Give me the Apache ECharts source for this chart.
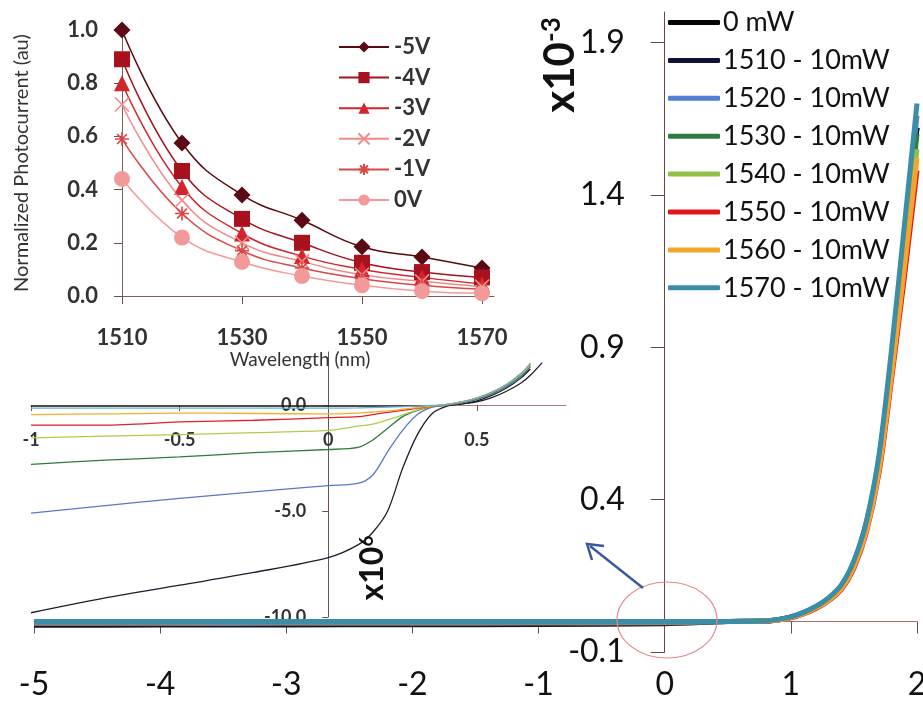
<!DOCTYPE html>
<html>
<head>
<meta charset="utf-8">
<script src="https://cdn.jsdelivr.net/npm/echarts@6/dist/echarts.min.js"></script>
<style>html,body{margin:0;padding:0;background:#fff;}#c{width:923px;height:702px;}</style>
</head>
<body>
<div id="c"></div>
<script>
// ---------- Main chart: current (x10^-3 A) vs voltage (V) ----------
const mainNames = ['0 mW','1510 - 10mW','1520 - 10mW','1530 - 10mW','1540 - 10mW','1550 - 10mW','1560 - 10mW','1570 - 10mW'];
const mainV = [-5, -4, -3, -2, -1, 0, 0.5, 0.8, 0.9, 1.0, 1.1, 1.2, 1.3, 1.4, 1.5, 1.6, 1.7, 1.8, 1.9, 2.0];
const cur0mW  = [0, 0, 0, 0, 0, 0, 0, 0.002, 0.006, 0.014, 0.028, 0.048, 0.075, 0.115, 0.19, 0.32, 0.53, 0.86, 1.24, 1.62];
const cur1510 = [-0.0125, -0.0118, -0.011, -0.0104, -0.0098, -0.0072, 0.0003, 0.002, 0.006, 0.014, 0.028, 0.048, 0.075, 0.115, 0.19, 0.32, 0.53, 0.86, 1.24, 1.62];
const cur1520 = [-0.0068, -0.0063, -0.0059, -0.0055, -0.0051, -0.0038, 0.0003, 0.002, 0.006, 0.015, 0.029, 0.049, 0.076, 0.118, 0.195, 0.33, 0.54, 0.88, 1.27, 1.66];
const cur1530 = [-0.0040, -0.0037, -0.0034, -0.0031, -0.0028, -0.0021, 0.0002, 0.002, 0.006, 0.014, 0.028, 0.047, 0.074, 0.114, 0.188, 0.318, 0.525, 0.85, 1.22, 1.60];
const cur1540 = [-0.0022, -0.0020, -0.0018, -0.0017, -0.0015, -0.0012, 0.0002, 0.002, 0.005, 0.013, 0.027, 0.046, 0.072, 0.11, 0.185, 0.31, 0.51, 0.83, 1.18, 1.55];
const cur1550 = [-0.0013, -0.0012, -0.0011, -0.0010, -0.0009, -0.0006, 0.0001, 0.001, 0.005, 0.012, 0.025, 0.043, 0.068, 0.105, 0.175, 0.295, 0.49, 0.80, 1.13, 1.48];
const cur1560 = [-0.0007, -0.0006, -0.0006, -0.0005, -0.0004, -0.0004, 0.0001, 0.002, 0.005, 0.013, 0.026, 0.045, 0.07, 0.108, 0.18, 0.30, 0.50, 0.815, 1.16, 1.52];
const cur1570 = [-0.0003, -0.0002, -0.0002, -0.0002, -0.0002, -0.0002, 0.0001, 0.002, 0.007, 0.015, 0.03, 0.05, 0.078, 0.12, 0.2, 0.33, 0.55, 0.9, 1.3, 1.70];
const mainCurrents = [cur0mW, cur1510, cur1520, cur1530, cur1540, cur1550, cur1560, cur1570];
const mainYTicks = [-0.1, 0.4, 0.9, 1.4, 1.9];

// ---------- Inset: normalized photocurrent vs wavelength ----------
const wavelengths = [1510, 1520, 1530, 1540, 1550, 1560, 1570];
const wlTicks = [1510, 1530, 1550, 1570];
const biasNames = ['-5V', '-4V', '-3V', '-2V', '-1V', '0V'];
const pc5V = [1.0, 0.575, 0.38, 0.285, 0.185, 0.147, 0.105];
const pc4V = [0.89, 0.47, 0.29, 0.20, 0.125, 0.09, 0.07];
const pc3V = [0.80, 0.41, 0.235, 0.15, 0.10, 0.07, 0.045];
const pc2V = [0.72, 0.36, 0.20, 0.13, 0.08, 0.055, 0.035];
const pc1V = [0.59, 0.31, 0.17, 0.105, 0.065, 0.04, 0.025];
const pc0V = [0.44, 0.22, 0.128, 0.075, 0.04, 0.018, 0.01];
const photocurrents = [pc5V, pc4V, pc3V, pc2V, pc1V, pc0V];

// ---------- Inset: zoomed I-V (x10^-6 A) ----------
const ivV = [-1, -0.75, -0.5, -0.25, 0, 0.1, 0.15, 0.2, 0.25, 0.3, 0.35, 0.4, 0.45, 0.5, 0.55, 0.6, 0.65, 0.68, 0.72];
const iv0mW  = [-0.05, -0.05, -0.05, -0.05, -0.05, -0.05, -0.05, -0.05, -0.05, -0.05, -0.04, -0.02, 0.05, 0.2, 0.45, 0.8, 1.3, 1.7, null];
const iv1510 = [-9.8, -9.1, -8.5, -7.9, -7.2, -6.6, -6.0, -5.0, -3.0, -1.4, -0.4, -0.05, 0.05, 0.15, 0.35, 0.65, 1.05, 1.4, 2.0];
const iv1520 = [-5.1, -4.75, -4.4, -4.1, -3.8, -3.7, -3.3, -2.2, -1.2, -0.45, -0.1, 0.0, 0.1, 0.25, 0.5, 0.85, 1.35, 1.8, null];
const iv1530 = [-2.8, -2.6, -2.45, -2.25, -2.1, -2.0, -1.65, -1.1, -0.55, -0.25, -0.08, 0.0, 0.12, 0.3, 0.55, 0.9, 1.4, 1.85, null];
const iv1540 = [-1.55, -1.47, -1.4, -1.3, -1.2, -1.0, -0.9, -0.7, -0.47, -0.23, -0.07, 0.02, 0.15, 0.32, 0.58, 0.95, 1.45, 1.9, null];
const iv1550 = [-0.95, -0.95, -0.8, -0.72, -0.6, -0.55, -0.45, -0.35, -0.25, -0.15, -0.05, 0.03, 0.15, 0.33, 0.6, 0.97, 1.5, 1.95, null];
const iv1560 = [-0.45, -0.42, -0.38, -0.4, -0.42, -0.38, -0.33, -0.28, -0.2, -0.12, -0.04, 0.03, 0.15, 0.33, 0.6, 0.97, 1.5, 1.95, null];
const iv1570 = [-0.15, -0.15, -0.15, -0.15, -0.15, -0.14, -0.12, -0.1, -0.08, -0.05, -0.02, 0.03, 0.15, 0.33, 0.6, 0.97, 1.5, 1.95, null];
const ivCurrents = [iv0mW, iv1510, iv1520, iv1530, iv1540, iv1550, iv1560, iv1570];
const ivXTicks = [-1, -0.5, 0, 0.5];
const ivYTicks = [-10, -5, 0];

// ---------- styles ----------
const FONT = 'Lato';
const mainColors = ['#050505', '#10123a', '#4f7fd6', '#2f7d3c', '#93c047', '#e4141c', '#f5a52a', '#3c8ea6'];
const ivColors   = ['#111111', '#1e1e2e', '#5b78c8', '#2f7d3a', '#b0cc4c', '#e0202a', '#f5b030', '#62b4d6'];
const biasColors = ['#5a0a12', '#a8121e', '#d1262d', '#f08a8a', '#d94848', '#f29a9a'];
const biasSymbols = [
  'diamond', 'rect', 'triangle',
  'path://M0,0L10,10M10,0L0,10',
  'path://M5,0L5,10M0,5L10,5M1.5,1.5L8.5,8.5M8.5,1.5L1.5,8.5',
  'circle'
];
const biasSizes = [17, 16, 16, 14, 14, 16];

// grid geometry
const MAIN = { left: 34, top: 12, width: 883, height: 640 };
const IV = { left: 31, top: 352, width: 535, height: 265 };
const mainZeroXOffset = -MAIN.width * 5 / 7;        // y-axis sits at x = 0
const mainZeroYOffset = -MAIN.height * 0.1 / 2.1;   // x-axis sits at y = 0
const ivZeroXOffset = -IV.width * 1 / 1.8;
const ivZeroYOffset = -IV.height * 10 / 12.5;

const series = [];
mainNames.forEach((n, i) => {
  series.push({
    type: 'line', name: n, xAxisIndex: 0, yAxisIndex: 0,
    data: mainV.map((v, j) => [v, mainCurrents[i][j]]),
    symbol: 'none', smooth: 0.3,
    lineStyle: { width: 5, color: mainColors[i] },
    itemStyle: { color: mainColors[i] }
  });
});
biasNames.forEach((n, i) => {
  const isStroke = i === 3 || i === 4;
  series.push({
    type: 'line', name: n, xAxisIndex: 1, yAxisIndex: 1,
    data: wavelengths.map((w, j) => [w, photocurrents[i][j]]),
    smooth: 0.45, symbol: biasSymbols[i], symbolSize: biasSizes[i],
    lineStyle: { width: 1.5, color: biasColors[i] },
    itemStyle: isStroke ? { color: biasColors[i], borderColor: biasColors[i], borderWidth: 1.6 } : { color: biasColors[i] },
    z: 5
  });
});
mainNames.forEach((n, i) => {
  series.push({
    type: 'line', name: n + ' (zoom)', xAxisIndex: 2, yAxisIndex: 2,
    data: ivV.map((v, j) => [v, ivCurrents[i][j]]),
    symbol: 'none', smooth: 0.3,
    lineStyle: { width: 1.3, color: ivColors[i] },
    itemStyle: { color: ivColors[i] },
    z: 4
  });
});

const option = {
  backgroundColor: '#fff',
  animation: false,
  textStyle: { fontFamily: FONT },
  grid: [
    Object.assign({ outerBoundsMode: 'none', containLabel: false }, MAIN),
    { left: 122, top: 30, width: 372, height: 266, outerBoundsMode: 'none', containLabel: false },
    Object.assign({ outerBoundsMode: 'none', containLabel: false }, IV)
  ],
  xAxis: [
    { gridIndex: 0, type: 'value', min: -5, max: 2, interval: 1, offset: mainZeroYOffset,
      axisLine: { onZero: false, lineStyle: { color: '#b06a6a', width: 1 } },
      axisTick: { length: 12, lineStyle: { color: '#6a4a4a' } },
      axisLabel: { margin: 47, fontSize: 32, color: '#111', fontFamily: FONT },
      splitLine: { show: false } },
    { gridIndex: 1, type: 'value', min: 1510, max: 1572,
      axisLine: { onZero: false, lineStyle: { color: '#7a6060' } },
      axisTick: { customValues: wlTicks, length: 8, lineStyle: { color: '#6a5050' } },
      axisLabel: { customValues: wlTicks, margin: 31, fontSize: 22, fontWeight: 'bold', color: '#333', fontFamily: FONT,
        formatter: v => String(v) },
      splitLine: { show: false },
      name: 'Wavelength (nm)', nameLocation: 'middle', nameGap: 46,
      nameTextStyle: { fontSize: 19, color: '#333', fontFamily: FONT, padding: [0, 16, 0, 0] } },
    { gridIndex: 2, type: 'value', min: -1, max: 0.8, offset: ivZeroYOffset,
      axisLine: { onZero: false, lineStyle: { color: '#b07878' } },
      axisTick: { customValues: ivXTicks, length: 6, lineStyle: { color: '#6a5050' } },
      axisLabel: { customValues: ivXTicks, margin: 26, fontSize: 18, fontWeight: 'bold', color: '#333', fontFamily: FONT },
      splitLine: { show: false } }
  ],
  yAxis: [
    { gridIndex: 0, type: 'value', min: -0.1, max: 2.0, offset: mainZeroXOffset,
      axisLine: { show: true, onZero: false, lineStyle: { color: '#6b4545', width: 1 } },
      axisTick: { show: true, customValues: mainYTicks, length: 14, lineStyle: { color: '#6b4545' } },
      axisLabel: { customValues: mainYTicks, margin: 40, fontSize: 32, color: '#111', fontFamily: FONT },
      splitLine: { show: false } },
    { gridIndex: 1, type: 'value', min: 0, max: 1, interval: 0.2,
      axisLine: { show: true, onZero: false, lineStyle: { color: '#7a6060' } },
      axisTick: { show: true, length: 8, lineStyle: { color: '#6a5050' } },
      axisLabel: { margin: 24, fontSize: 22, fontWeight: 'bold', color: '#333', fontFamily: FONT,
        formatter: v => v.toFixed(1) },
      splitLine: { show: false },
      name: 'Normalized Photocurrent (au)', nameLocation: 'middle', nameGap: 90, nameRotate: 90,
      nameTextStyle: { fontSize: 20, color: '#333', fontFamily: FONT } },
    { gridIndex: 2, type: 'value', min: -10, max: 2.5, offset: ivZeroXOffset,
      axisLine: { show: true, onZero: false, lineStyle: { color: '#6a5050' } },
      axisTick: { show: true, customValues: ivYTicks, length: 6, lineStyle: { color: '#6a5050' } },
      axisLabel: { customValues: ivYTicks, margin: 22, fontSize: 18, fontWeight: 'bold', color: '#333', fontFamily: FONT,
        formatter: v => v.toFixed(1) },
      splitLine: { show: false } }
  ],
  legend: [
    { data: mainNames, orient: 'vertical', left: 668, top: 9, padding: 0,
      icon: 'roundRect', itemWidth: 52, itemHeight: 5, itemGap: 10.9,
      textStyle: { fontSize: 27, lineHeight: 27, color: '#111', fontFamily: FONT, padding: [0, 0, 0, -2] } },
    { data: biasNames, orient: 'vertical', left: 338, top: 36, padding: 0,
      itemWidth: 50, itemHeight: 14, itemGap: 8.6,
      textStyle: { fontSize: 22, lineHeight: 22, fontWeight: 'bold', color: '#333', fontFamily: FONT } }
  ],
  graphic: [
    { type: 'circle', x: 667, y: 620, scaleY: 0.76, shape: { cx: 0, cy: 0, r: 50 },
      style: { fill: 'none', stroke: '#e08a8a', lineWidth: 1.2, strokeNoScale: true }, z: 10 },
    { type: 'line', shape: { x1: 643, y1: 588, x2: 590, y2: 546 },
      style: { stroke: '#3b5a9c', lineWidth: 2.5 }, z: 10 },
    { type: 'polyline', shape: { points: [[604, 546], [587, 544], [592, 560]] },
      style: { stroke: '#3b5a9c', lineWidth: 2.5, fill: 'none' }, z: 10 },
    { type: 'text', x: 560, y: 65, rotation: Math.PI / 2, z: 10,
      style: { text: '{a|x10}{b|-3}', align: 'center', verticalAlign: 'middle', fill: '#111',
        rich: { a: { fontSize: 42, fontWeight: 'bold', fontFamily: FONT, fill: '#111' },
                b: { fontSize: 26, fontWeight: 'bold', fontFamily: FONT, fill: '#111', verticalAlign: 'top' } } } },
    { type: 'text', x: 373, y: 568, rotation: Math.PI / 2, z: 10,
      style: { text: '{a|x10}{b|6}', align: 'center', verticalAlign: 'middle', fill: '#111',
        rich: { a: { fontSize: 32, fontWeight: 'bold', fontFamily: FONT, fill: '#111' },
                b: { fontSize: 19, fontWeight: 'bold', fontFamily: FONT, fill: '#111', verticalAlign: 'top' } } } }
  ],
  series: series
};

const chart = echarts.init(document.getElementById('c'), null, { renderer: 'canvas' });
chart.setOption(option);
</script>
</body>
</html>
